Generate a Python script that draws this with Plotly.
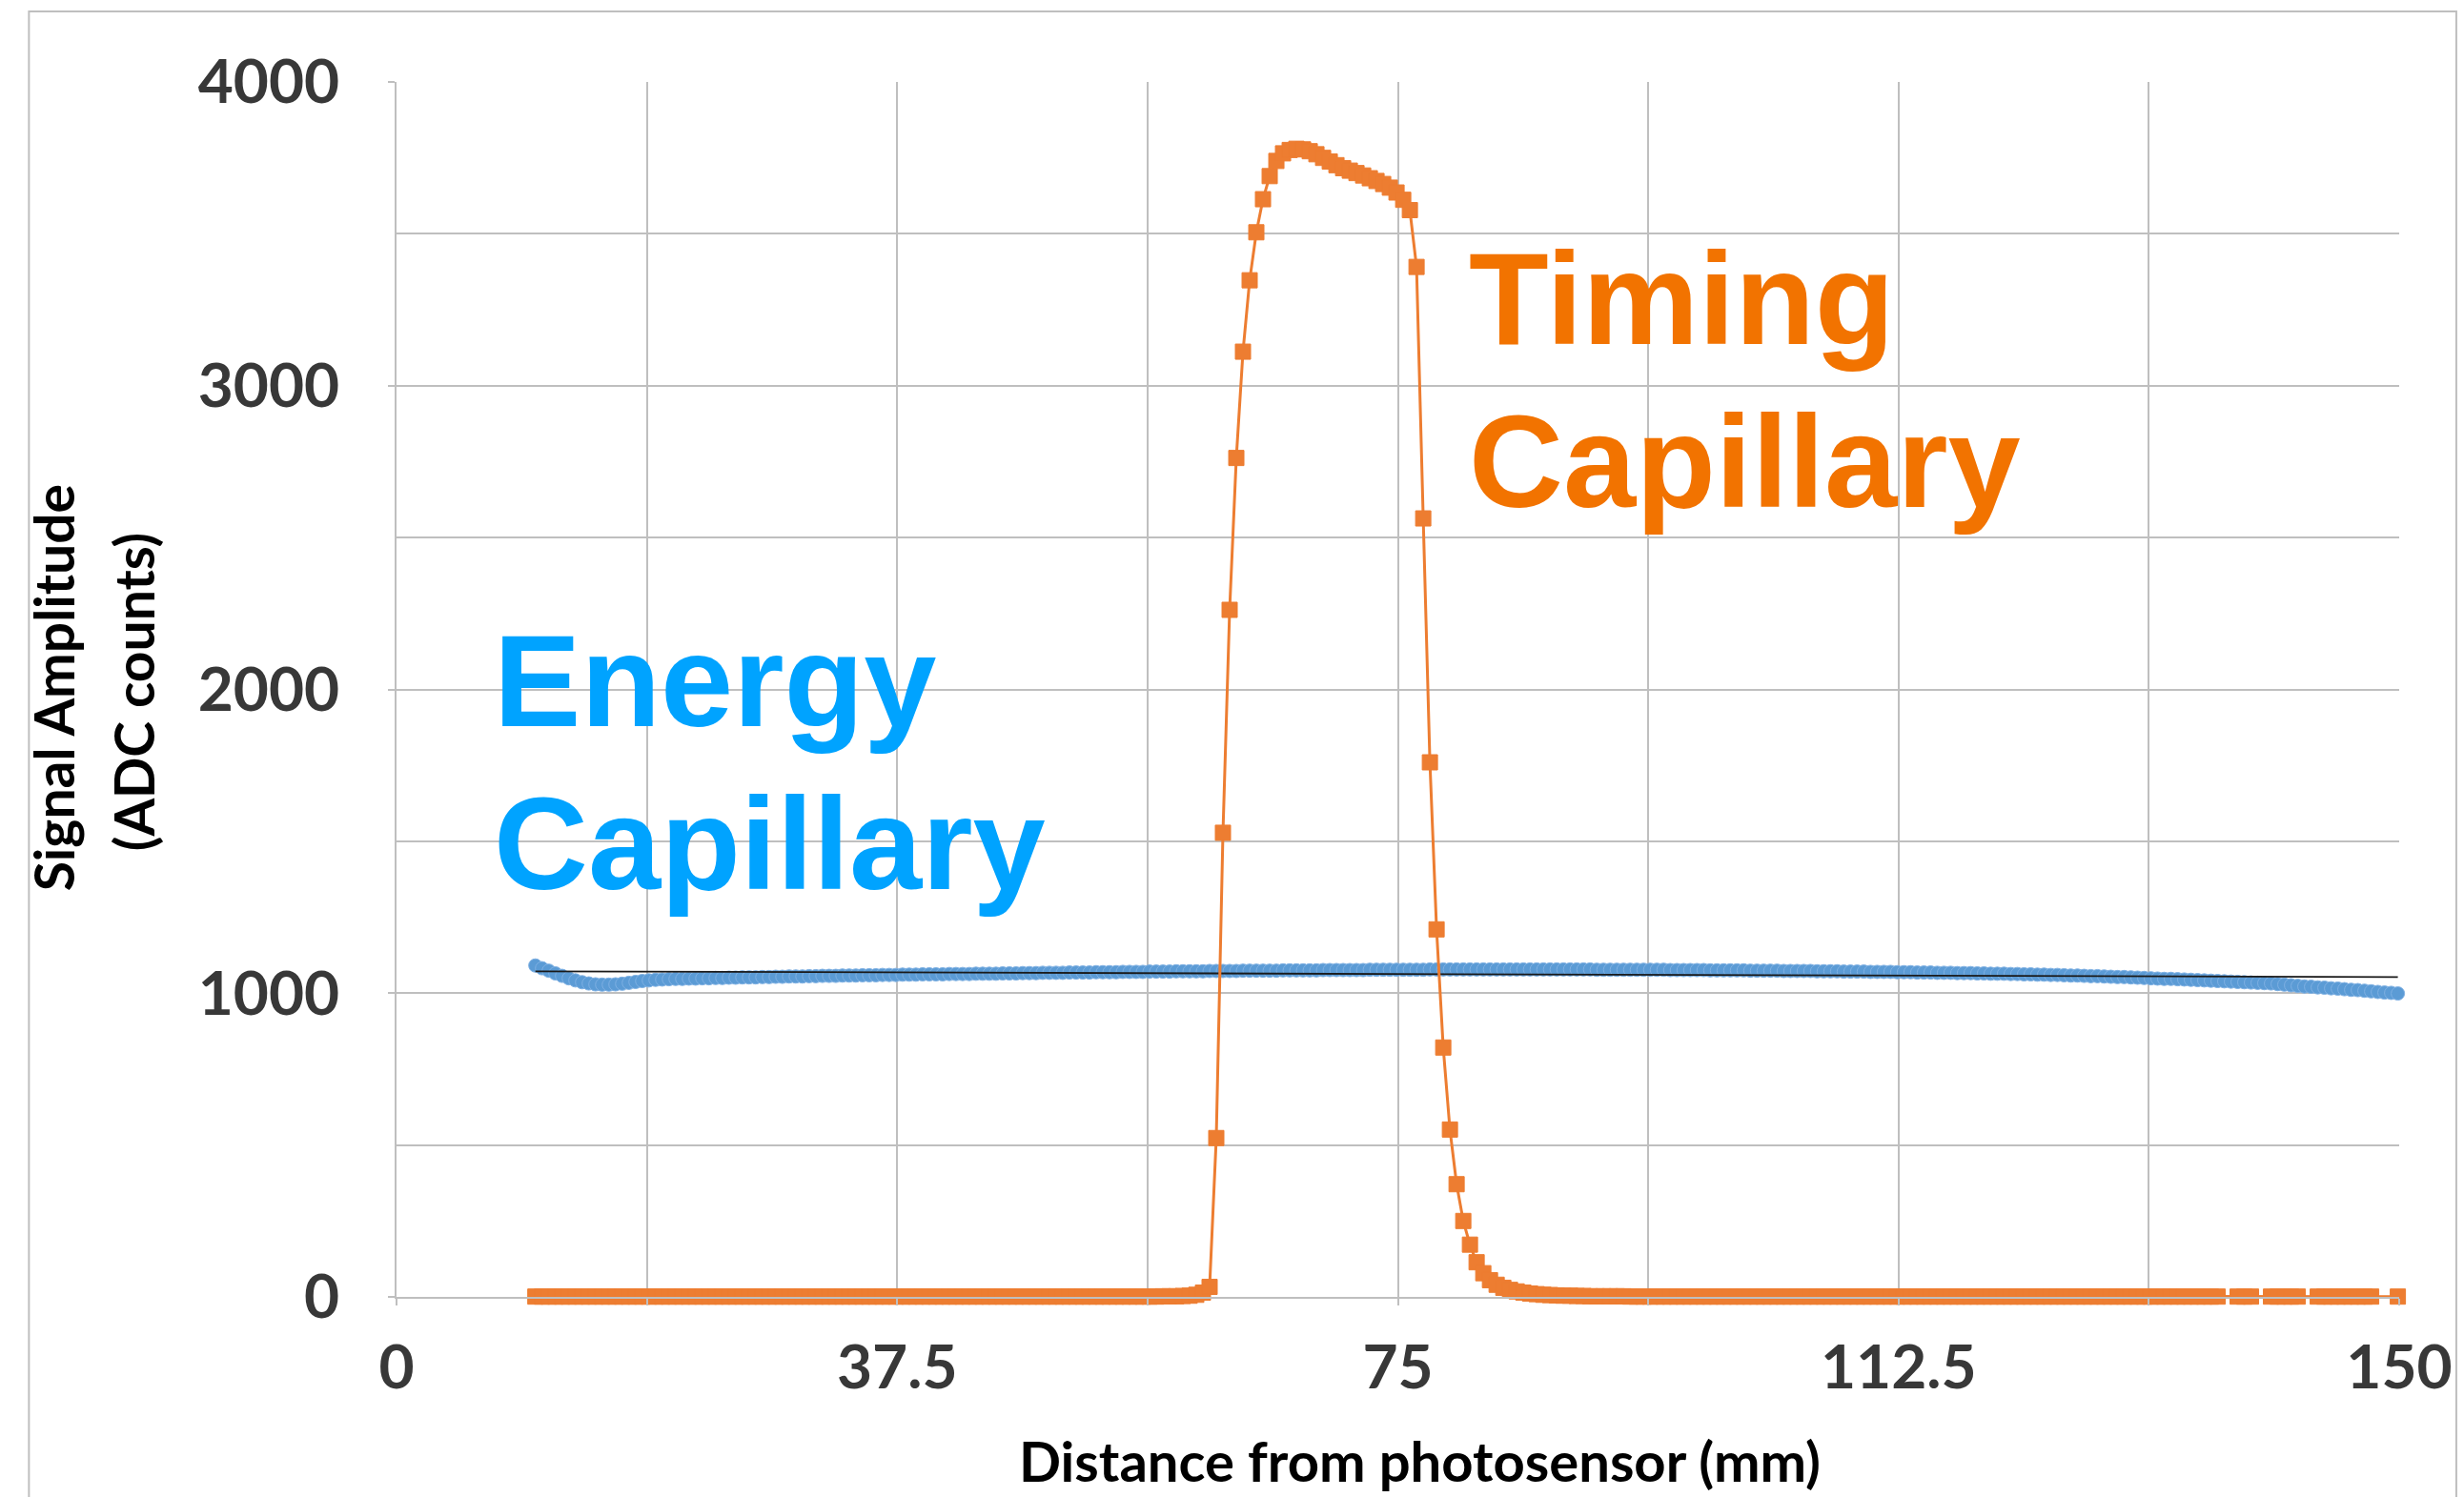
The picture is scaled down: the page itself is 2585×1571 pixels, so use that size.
import plotly.graph_objects as go

# ---------------- data ----------------
# measurement grid: 0.5 mm steps starting at 10.4 mm
positions_mm = [round(10.4 + 0.5 * i, 1) for i in range(280)]

energy_adc = [
    1091, 1082, 1074, 1065, 1057, 1049, 1042, 1036, 1032, 1029,
    1028, 1028, 1029, 1031, 1034, 1037, 1040, 1042, 1044, 1045,
    1046, 1047, 1047, 1048, 1048, 1049, 1049, 1050, 1050, 1051,
    1051, 1052, 1052, 1052, 1053, 1053, 1054, 1054, 1055, 1055,
    1055, 1056, 1056, 1057, 1057, 1057, 1058, 1058, 1058, 1059,
    1059, 1059, 1060, 1060, 1060, 1061, 1061, 1061, 1062, 1062,
    1062, 1062, 1063, 1063, 1063, 1063, 1064, 1064, 1064, 1064,
    1065, 1065, 1065, 1066, 1066, 1066, 1067, 1067, 1067, 1067,
    1068, 1068, 1068, 1068, 1069, 1069, 1069, 1069, 1070, 1070,
    1070, 1070, 1071, 1071, 1071, 1071, 1072, 1072, 1072, 1072,
    1072, 1073, 1073, 1073, 1073, 1073, 1074, 1074, 1074, 1074,
    1074, 1074, 1075, 1075, 1075, 1075, 1075, 1075, 1076, 1076,
    1076, 1076, 1076, 1076, 1076, 1077, 1077, 1077, 1077, 1077,
    1077, 1077, 1077, 1077, 1078, 1078, 1078, 1078, 1078, 1078,
    1078, 1078, 1078, 1078, 1078, 1078, 1078, 1078, 1078, 1078,
    1078, 1078, 1078, 1078, 1078, 1078, 1078, 1078, 1078, 1077,
    1077, 1077, 1077, 1077, 1077, 1077, 1077, 1077, 1077, 1077,
    1076, 1076, 1076, 1076, 1076, 1076, 1075, 1075, 1075, 1075,
    1075, 1075, 1074, 1074, 1074, 1074, 1074, 1073, 1073, 1073,
    1073, 1073, 1072, 1072, 1072, 1072, 1071, 1071, 1071, 1071,
    1070, 1070, 1070, 1070, 1069, 1069, 1069, 1068, 1068, 1068,
    1067, 1067, 1067, 1066, 1066, 1066, 1065, 1065, 1064, 1064,
    1064, 1063, 1063, 1062, 1062, 1061, 1061, 1060, 1060, 1059,
    1058, 1058, 1057, 1056, 1056, 1055, 1054, 1053, 1053, 1052,
    1051, 1050, 1049, 1048, 1047, 1047, 1046, 1045, 1044, 1043,
    1042, 1041, 1040, 1039, 1038, 1037, 1036, 1035, 1034, 1033,
    1032, 1030, 1028, 1026, 1024, 1022, 1021, 1019, 1018, 1016,
    1015, 1013, 1011, 1010, 1008, 1006, 1004, 1002, 1001, 999,
]

timing_adc = [
    1, 1, 1, 1, 1, 1, 1, 1, 1, 1,
    1, 1, 1, 1, 1, 1, 1, 1, 1, 1,
    1, 1, 1, 1, 1, 1, 1, 1, 1, 1,
    1, 1, 1, 1, 1, 1, 1, 1, 1, 1,
    1, 1, 1, 1, 1, 1, 1, 1, 1, 1,
    1, 1, 1, 1, 1, 1, 1, 1, 1, 1,
    1, 1, 1, 1, 1, 1, 1, 1, 1, 1,
    1, 1, 1, 1, 1, 1, 1, 1, 1, 1,
    1, 1, 1, 1, 1, 1, 1, 1, 1, 1,
    1, 1, 1, 1, 2, 2, 2, 3, 4, 7,
    14, 33, 523, 1528, 2262, 2762, 3112, 3347, 3505, 3614,
    3690, 3740, 3765, 3776, 3780, 3778, 3772, 3762, 3750, 3738,
    3726, 3716, 3708, 3700, 3692, 3683, 3674, 3664, 3652, 3636,
    3612, 3578, 3391, 2563, 1760, 1210, 821, 551, 371, 250,
    172, 114, 78, 55, 40, 30, 23, 18, 14, 11,
    9, 7, 6, 5, 4, 4, 3, 3, 2, 2,
    2, 2, 2, 2, 1, 1, 1, 1, 1, 1,
    1, 1, 1, 1, 1, 1, 1, 1, 1, 1,
    1, 1, 1, 1, 1, 1, 1, 1, 1, 1,
    1, 1, 1, 1, 1, 1, 1, 1, 1, 1,
    1, 1, 1, 1, 1, 1, 1, 1, 1, 1,
    1, 1, 1, 1, 1, 1, 1, 1, 1, 1,
    1, 1, 1, 1, 1, 1, 1, 1, 1, 1,
    1, 1, 1, 1, 1, 1, 1, 1, 1, 1,
    1, 1, 1, 1, 1, 1, 1, 1, 1, 1,
    1, 1, 1, None, None, 1, 1, 1, None, None,
    1, 1, 1, 1, 1, None, None, 1, 1, 1,
    1, 1, 1, 1, 1, 1, None, None, None, 1,
]

trend_x = [10.4, 149.9]
trend_y = [1072, 1053]

x_tick_step = 37.5
y_tick_step = 1000

# ---------------- layout geometry (pixels) ----------------
W, H = 2585, 1571
L, R, T, B = 416, 66, 86, 210
PW, PH = W - L - R, H - T - B


def px_x(p):
    return (p - L) / PW


def px_y(p):
    return (H - B - p) / PH


GRID = "#BFBFBF"
TICKFONT = dict(family="Lato", size=64, color="#383838", weight="bold")
TITLEFONT = dict(family="Lato", size=57, color="#000000", weight="bold")
LABELFONT = "Liberation Sans"

fig = go.Figure()

fig.add_trace(go.Scatter(
    x=positions_mm, y=energy_adc, mode="markers", name="Energy",
    marker=dict(symbol="circle", size=14, color="#5B9BD5",
                line=dict(color="#7EB0E3", width=1)),
    cliponaxis=False,
))
fig.add_trace(go.Scatter(
    x=trend_x, y=trend_y, mode="lines", name="Trend",
    line=dict(color="#1A1A1A", width=1.8),
    cliponaxis=False,
))
fig.add_trace(go.Scatter(
    x=positions_mm, y=timing_adc, mode="lines+markers", name="Timing",
    connectgaps=True,
    line=dict(color="#ED7D31", width=3),
    marker=dict(symbol="square", size=16, color="#ED7D31",
                line=dict(color="#ED7D31", width=1)),
    cliponaxis=False,
))

axis_common = dict(
    showgrid=True, gridcolor=GRID, gridwidth=2,
    showline=True, linecolor=GRID, linewidth=2,
    zeroline=False,
    ticks="outside", ticklen=7, tickcolor=GRID, tickwidth=2,
    tickfont=TICKFONT,
)

fig.update_xaxes(
    range=[0, 150], tickmode="linear", tick0=0, dtick=x_tick_step,
    minor=dict(dtick=x_tick_step / 2, showgrid=True, gridcolor=GRID,
               gridwidth=2, ticks="outside", ticklen=7, tickcolor=GRID,
               tickwidth=2),
    ticklabelstandoff=10,
    **axis_common,
)
fig.update_yaxes(
    range=[0, 4000], tickmode="linear", tick0=0, dtick=y_tick_step,
    minor=dict(dtick=y_tick_step / 2, showgrid=True, gridcolor=GRID,
               gridwidth=2, ticks=""),
    ticklabelstandoff=38,
    **axis_common,
)

annotations = [
    # series labels
    dict(text="Energy", x=px_x(516), y=px_y(762 - 47.5)),
    dict(text="Capillary", x=px_x(516), y=px_y(932.7 - 47.5)),
    dict(text="Timing", x=px_x(1540), y=px_y(360.7 - 47.5)),
    dict(text="Capillary", x=px_x(1540), y=px_y(531.7 - 47.5)),
]
colors = ["#00A3FF", "#00A3FF", "#F27300", "#F27300"]
for a, c in zip(annotations, colors):
    fig.add_annotation(
        text=a["text"], x=a["x"], y=a["y"], xref="paper", yref="paper",
        xanchor="left", yanchor="middle", showarrow=False,
        font=dict(family=LABELFONT, size=137, color=c, weight="bold"),
    )

# axis titles
fig.add_annotation(text="Signal Amplitude", x=px_x(56), y=px_y(722),
                   xref="paper", yref="paper", textangle=-90,
                   xanchor="center", yanchor="middle", showarrow=False,
                   font=TITLEFONT)
fig.add_annotation(text="(ADC counts)", x=px_x(140), y=px_y(726),
                   xref="paper", yref="paper", textangle=-90,
                   xanchor="center", yanchor="middle", showarrow=False,
                   font=TITLEFONT)
fig.add_annotation(text="Distance from photosensor (mm)", x=px_x(1491),
                   y=px_y(1533), xref="paper", yref="paper",
                   xanchor="center", yanchor="middle", showarrow=False,
                   font=dict(family="Lato", size=58, color="#000000",
                             weight="bold"))

# chart-area border
fig.add_shape(type="rect", xref="paper", yref="paper",
              x0=px_x(30), x1=px_x(2579), y0=px_y(1620), y1=px_y(12),
              line=dict(color=GRID, width=2), fillcolor="rgba(0,0,0,0)",
              layer="below")

fig.update_layout(
    width=W, height=H,
    margin=dict(l=L, r=R, t=T, b=B, pad=0),
    paper_bgcolor="white", plot_bgcolor="white",
    showlegend=False,
)

fig.write_html("out.html", config={"displayModeBar": False},
               post_script="document.body.style.margin='0';")
